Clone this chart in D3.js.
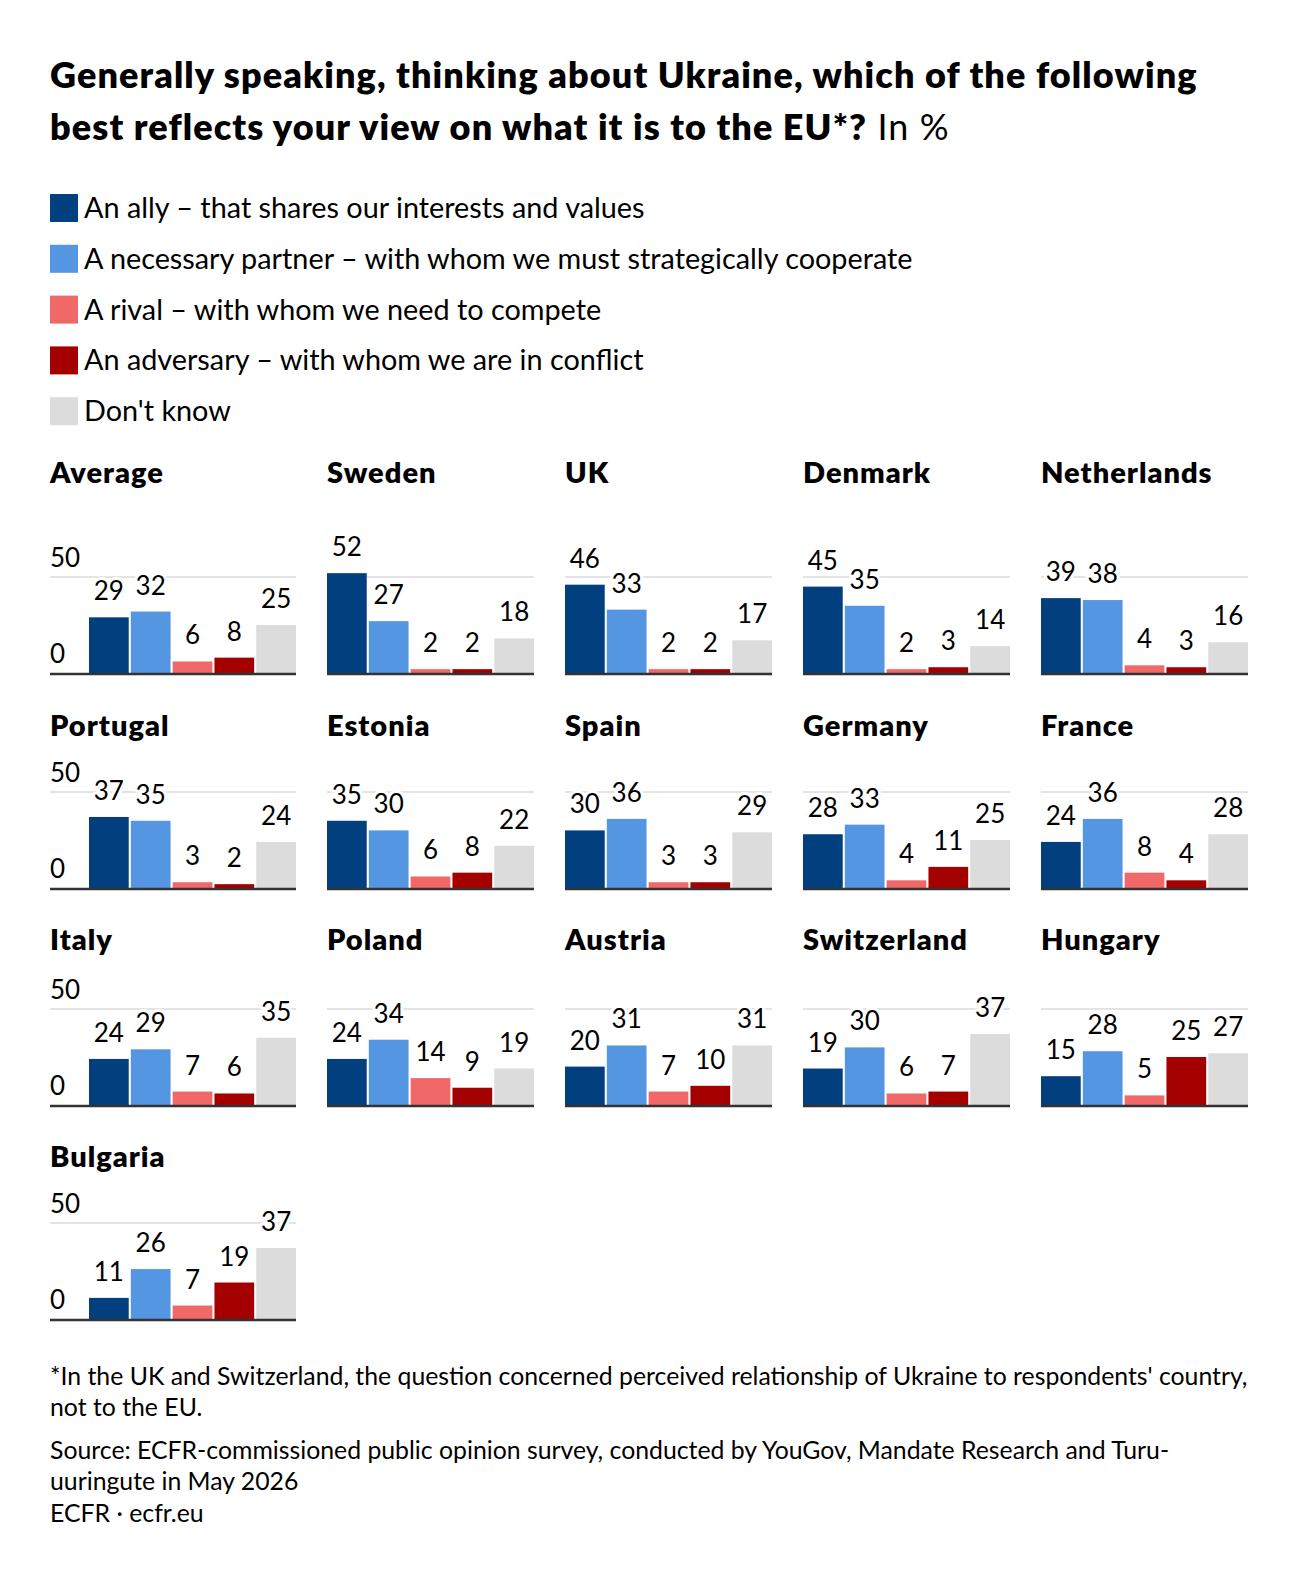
<!DOCTYPE html>
<html>
<head>
<meta charset="utf-8">
<script src="https://cdn.jsdelivr.net/npm/d3@7"></script>
<style>
  body { margin: 0; background: #fff; }
  text { font-family: Lato, "Noto Sans", sans-serif; fill: #000; }
</style>
</head>
<body>
<div id="wrapper"></div>
<script>
// categories + colours
const categories = [
  "An ally – that shares our interests and values",
  "A necessary partner – with whom we must strategically cooperate",
  "A rival – with whom we need to compete",
  "An adversary – with whom we are in conflict",
  "Don't know"
]
const colors = ["#023f7e", "#5596e2", "#f06868", "#a40000", "#dcdcdc"]

const countries = [
  "Average", "Sweden", "UK", "Denmark", "Netherlands",
  "Portugal", "Estonia", "Spain", "Germany", "France",
  "Italy", "Poland", "Austria", "Switzerland", "Hungary",
  "Bulgaria"
]

// values per country, same order as categories
const ally      = [29, 52, 46, 45, 39, 37, 35, 30, 28, 24, 24, 24, 20, 19, 15, 11]
const partner   = [32, 27, 33, 35, 38, 35, 30, 36, 33, 36, 29, 34, 31, 30, 28, 26]
const rival     = [6, 2, 2, 2, 4, 3, 6, 3, 4, 8, 7, 14, 7, 6, 5, 7]
const adversary = [8, 2, 2, 3, 3, 2, 8, 3, 11, 4, 6, 9, 10, 7, 25, 19]
const dontKnow  = [25, 18, 17, 14, 16, 24, 22, 29, 25, 28, 35, 19, 31, 37, 27, 37]

const yTicks = [0, 50]

const titleLines = [
  "Generally speaking, thinking about Ukraine, which of the following",
  "best reflects your view on what it is to the EU*?"
]
const footLines = [
  "*In the UK and Switzerland, the question concerned perceived relationship of Ukraine to respondents' country,",
  "not to the EU.",
  "Source: ECFR-commissioned public opinion survey, conducted by YouGov, Mandate Research and Turu-",
  "uuringute in May 2026",
  "ECFR · ecfr.eu"
]

const series = [ally, partner, rival, adversary, dontKnow]

let dimensions = {
  width: 1300,
  height: 1582,
  left: 50,
  plotLeft: 89,
  plotWidth: 207,
  colStep: 238,
  barHeight: 96,   // pixels for 0..50
  rowBase: [673, 888, 1105, 1319],
  rowTitle: [483, 736, 950, 1167],
}

const svg = d3.select("#wrapper")
  .append("svg")
    .attr("width", dimensions.width)
    .attr("height", dimensions.height)

// title
const title = svg.append("g")
title.append("text").attr("x", 50).attr("y", 88)
  .text(titleLines[0]).style("font-size", "36px").style("font-weight", 800)
  .style("letter-spacing", "1.1px")
const t2 = title.append("text").attr("x", 50).attr("y", 140)
  .style("font-size", "36px").style("letter-spacing", "1.1px")
t2.append("tspan").text(titleLines[1]).style("font-weight", 800)
t2.append("tspan").text(" In %").style("font-weight", 400)

// legend
const legend = svg.append("g")
categories.forEach((c, i) => {
  const cy = 208 + i * 50.8
  legend.append("rect").attr("x", 50).attr("y", cy - 14).attr("width", 28).attr("height", 28)
    .attr("fill", colors[i])
  legend.append("text").attr("x", 84).attr("y", cy + 10).text(c)
    .style("font-size", "28.8px")
})

const x = d3.scaleBand()
  .domain(d3.range(categories.length))
  .range([0, dimensions.plotWidth])
  .paddingInner(0.05)

countries.forEach((name, k) => {
  const row = Math.floor(k / 5)
  const col = k % 5
  const base = dimensions.rowBase[row]
  const px = dimensions.plotLeft + col * dimensions.colStep
  const lineStart = col == 0 ? dimensions.left : px

  const y = d3.scaleLinear().domain([0, 50]).range([base, base - dimensions.barHeight])

  const g = svg.append("g")

  g.append("text")
    .attr("x", lineStart).attr("y", dimensions.rowTitle[row])
    .text(name)
    .style("font-size", "29px").style("font-weight", 800)
    .style("letter-spacing", "1px")

  // gridline at 50
  g.append("line")
    .attr("x1", lineStart).attr("x2", px + dimensions.plotWidth)
    .attr("y1", y(50)).attr("y2", y(50))
    .attr("stroke", "#e4e4e4").attr("stroke-width", 2)

  if (col == 0) {
    yTicks.forEach(t => {
      g.append("text").attr("x", dimensions.left).attr("y", y(t) - 10)
        .text(t).style("font-size", "26px")
    })
  }

  const vals = series.map(s => s[k])

  g.selectAll("rect.bar")
    .data(vals)
    .join("rect")
      .attr("class", "bar")
      .attr("x", (d, i) => px + x(i))
      .attr("width", x.bandwidth())
      .attr("y", d => y(d))
      .attr("height", d => base - y(d))
      .attr("fill", (d, i) => colors[i])

  // baseline
  g.append("line")
    .attr("x1", lineStart).attr("x2", px + dimensions.plotWidth)
    .attr("y1", base + 1).attr("y2", base + 1)
    .attr("stroke", "#333").attr("stroke-width", 2.5)

  g.selectAll("text.val")
    .data(vals)
    .join("text")
      .attr("class", "val")
      .attr("x", (d, i) => px + x(i) + x.bandwidth() / 2)
      .attr("y", d => y(d) - 17)
      .attr("text-anchor", "middle")
      .text(d => d)
      .style("font-size", "26px")
      .style("paint-order", "stroke")
      .attr("stroke", "#fff").attr("stroke-width", 6).attr("stroke-linejoin", "round")
})

// footer
const foot = svg.append("g")
const footY = [1385, 1416, 1459, 1490, 1522]
footLines.forEach((l, i) => {
  foot.append("text").attr("x", 50).attr("y", footY[i]).text(l)
    .style("font-size", "24.8px")
})
</script>
</body>
</html>
